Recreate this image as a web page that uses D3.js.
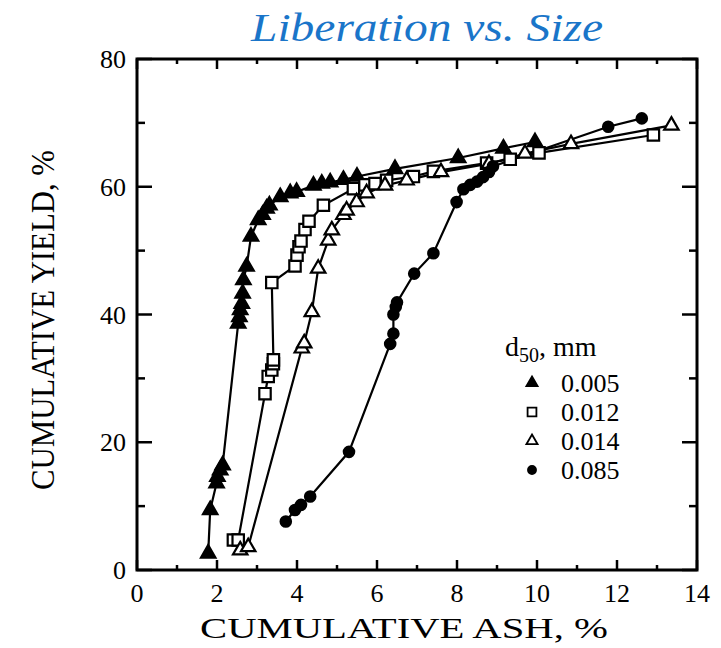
<!DOCTYPE html>
<html>
<head>
<meta charset="utf-8">
<script src="https://cdn.jsdelivr.net/npm/d3@7"></script>
<style>
  body { margin: 0; background: #fff; }
  svg { display: block; font-family: "Liberation Serif", "DejaVu Serif", serif; }
</style>
</head>
<body>
<div id="chart"></div>
<script>
const width = 721;
const height = 648;

// cumulative ash %, cumulative yield %
const fine005 = [[1.78,2.6],[1.83,9.4],[1.99,13.6],[2.01,14.6],[2.08,15.6],[2.14,16.4],[2.53,38.6],[2.56,39.6],[2.58,40.7],[2.62,41.7],[2.64,43.3],[2.66,45.4],[2.74,47.5],[2.85,52.2],[3.03,54.8],[3.14,55.6],[3.24,56.6],[3.31,57.1],[3.58,58.4],[3.83,59.0],[3.99,59.2],[4.41,60.2],[4.62,60.5],[4.83,60.7],[5.16,61.1],[5.5,61.6],[6.45,62.8],[8.03,64.5],[9.16,66.0],[9.95,67.0]];
const fine012 = [[2.41,4.7],[2.53,4.7],[3.2,27.6],[3.28,30.3],[3.37,31.3],[3.41,32.3],[3.41,32.9],[3.37,45.0],[3.95,47.6],[4.0,49.3],[4.05,50.6],[4.1,51.5],[4.2,53.3],[4.3,54.6],[4.66,57.1],[5.41,59.7],[5.7,60.3],[5.95,60.5],[6.24,61.0],[6.91,61.6],[7.41,62.4],[8.74,63.7],[9.33,64.3],[10.05,65.3],[12.91,68.1]];
const fine014 = [[2.58,3.1],[2.78,3.6],[4.12,34.7],[4.18,35.5],[4.37,40.4],[4.53,47.2],[4.78,51.6],[4.87,53.2],[5.16,55.6],[5.24,56.3],[5.49,57.6],[5.74,59.0],[6.2,60.2],[6.74,61.0],[7.6,62.3],[8.8,63.6],[9.7,65.2],[10.85,66.7],[13.36,69.6]];
const coarse085 = [[3.72,7.6],[3.95,9.4],[4.1,10.2],[4.33,11.5],[5.3,18.5],[6.33,35.4],[6.41,37.0],[6.41,40.0],[6.47,41.2],[6.5,41.9],[6.93,46.4],[7.41,49.6],[7.99,57.6],[8.16,59.6],[8.33,60.3],[8.5,60.8],[8.65,61.5],[8.8,62.3],[8.9,63.2],[11.78,69.4],[12.62,70.7]];

const sizeLabels = ["0.005", "0.012", "0.014", "0.085"];
const xTicks = [0, 2, 4, 6, 8, 10, 12, 14];
const yTicks = [0, 20, 40, 60, 80];

const series = [
  { label: sizeLabels[0], data: fine005, type: d3.symbolTriangle, filled: true, size: 90 },
  { label: sizeLabels[1], data: fine012, type: d3.symbolSquare, filled: false, size: 130 },
  { label: sizeLabels[2], data: fine014, type: d3.symbolTriangle, filled: false, size: 90 },
  { label: sizeLabels[3], data: coarse085, type: d3.symbolCircle, filled: true, size: 85 }
];

const serif = "'Liberation Serif', 'DejaVu Serif', serif";

const x = d3.scaleLinear().domain([0, 14]).range([137, 697]);
const y = d3.scaleLinear().domain([0, 80]).range([570, 59]);

const svg = d3.select("#chart")
  .append("svg")
  .attr("width", width)
  .attr("height", height);

// title
svg.append("text")
  .attr("x", 427)
  .attr("y", 41)
  .attr("text-anchor", "middle")
  .attr("font-family", serif)
  .attr("font-style", "italic")
  .attr("font-size", 40)
  .attr("textLength", 352)
  .attr("lengthAdjust", "spacingAndGlyphs")
  .attr("fill", "#1a75c9")
  .text("Liberation vs. Size");

// ticks, inward on all four sides
const tickG = svg.append("g").attr("stroke", "#000").attr("stroke-width", 2.5);
d3.range(0, 14.01, 1).forEach(v => {
  const major = v % 2 === 0;
  const len = major ? 10 : 5;
  tickG.append("line").attr("x1", x(v)).attr("x2", x(v)).attr("y1", y(0)).attr("y2", y(0) - len);
  tickG.append("line").attr("x1", x(v)).attr("x2", x(v)).attr("y1", y(80)).attr("y2", y(80) + len);
});
d3.range(0, 80.01, 10).forEach(v => {
  const major = v % 20 === 0;
  const len = major ? 15 : 8;
  tickG.append("line").attr("x1", x(0)).attr("x2", x(0) + len).attr("y1", y(v)).attr("y2", y(v));
  tickG.append("line").attr("x1", x(14)).attr("x2", x(14) - len).attr("y1", y(v)).attr("y2", y(v));
});

// frame
svg.append("rect")
  .attr("x", x(0))
  .attr("y", y(80))
  .attr("width", x(14) - x(0))
  .attr("height", y(0) - y(80))
  .attr("fill", "none")
  .attr("stroke", "#000")
  .attr("stroke-width", 3);

// tick labels
svg.append("g").selectAll("text")
  .data(xTicks)
  .join("text")
  .attr("x", d => x(d))
  .attr("y", 602)
  .attr("text-anchor", "middle")
  .attr("font-family", serif)
  .attr("font-size", 26)
  .text(d => d);

svg.append("g").selectAll("text")
  .data(yTicks)
  .join("text")
  .attr("x", 126)
  .attr("y", d => y(d))
  .attr("dy", "0.35em")
  .attr("text-anchor", "end")
  .attr("font-family", serif)
  .attr("font-size", 26)
  .text(d => d);

// axis titles
svg.append("text")
  .attr("x", 404)
  .attr("y", 638)
  .attr("text-anchor", "middle")
  .attr("font-family", serif)
  .attr("font-size", 30)
  .attr("textLength", 408)
  .attr("lengthAdjust", "spacingAndGlyphs")
  .text("CUMULATIVE ASH, %");

svg.append("text")
  .attr("transform", "translate(54,320) rotate(-90)")
  .attr("text-anchor", "middle")
  .attr("font-family", serif)
  .attr("font-size", 34)
  .attr("textLength", 340)
  .attr("lengthAdjust", "spacingAndGlyphs")
  .text("CUMULATIVE YIELD, %");

// curves
const line = d3.line()
  .x(d => x(d[0]))
  .y(d => y(d[1]));

svg.append("g").selectAll("path")
  .data(series)
  .join("path")
  .attr("d", d => line(d.data))
  .attr("fill", "none")
  .attr("stroke", "#000")
  .attr("stroke-width", 2.2);

// markers
series.forEach(s => {
  const sym = d3.symbol().type(s.type).size(s.size);
  svg.append("g").selectAll("path")
    .data(s.data)
    .join("path")
    .attr("transform", d => `translate(${x(d[0])},${y(d[1])})`)
    .attr("d", sym)
    .attr("fill", s.filled ? "#000" : "#fff")
    .attr("stroke", "#000")
    .attr("stroke-width", 2.2);
});

// legend
const legend = svg.append("g");
const head = legend.append("text")
  .attr("x", 505)
  .attr("y", 356)
  .attr("font-family", serif)
  .attr("font-size", 28);
head.append("tspan").text("d");
head.append("tspan").attr("font-size", 20).attr("dy", 6).text("50");
head.append("tspan").attr("dy", -6).text(", mm");

legend.selectAll("g.item")
  .data(series)
  .join("g")
  .attr("class", "item")
  .attr("transform", (d, i) => `translate(0,${383 + i * 29})`)
  .each(function(d) {
    const g = d3.select(this);
    g.append("path")
      .attr("transform", "translate(532,0)")
      .attr("d", d3.symbol().type(d.type).size(d.size * 0.6))
      .attr("fill", d.filled ? "#000" : "#fff")
      .attr("stroke", "#000")
      .attr("stroke-width", 1.8);
    g.append("text")
      .attr("x", 561)
      .attr("y", 0)
      .attr("dy", "0.35em")
      .attr("font-family", serif)
      .attr("font-size", 26)
      .text(d.label);
  });
</script>
</body>
</html>
